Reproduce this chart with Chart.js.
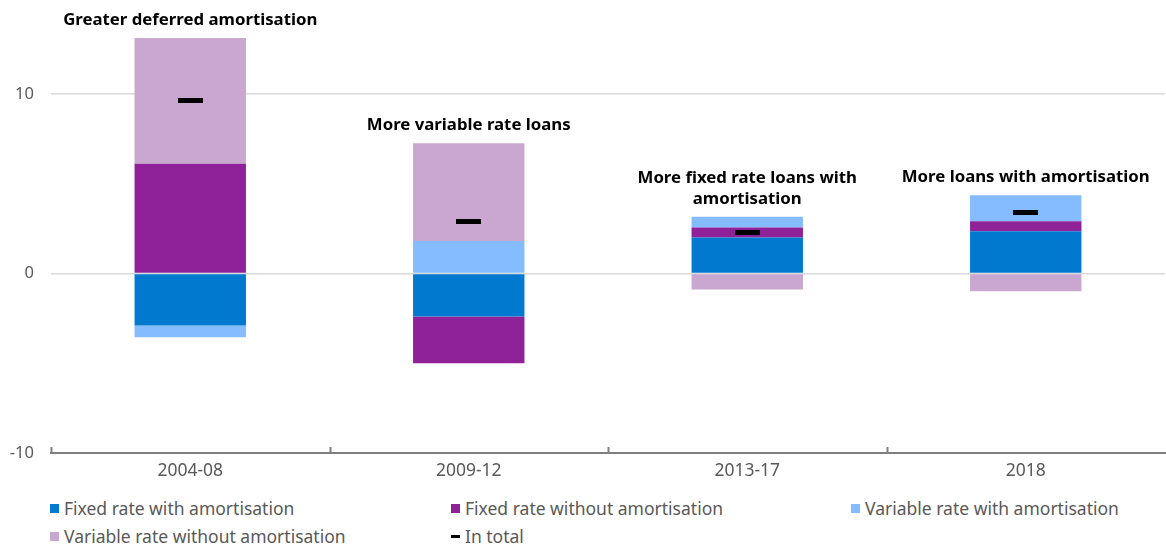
<!DOCTYPE html>
<html>
<head>
<meta charset="utf-8">
<script src="https://cdn.jsdelivr.net/npm/chart.js@4"></script>
<style>
  html, body { margin: 0; background: #fff; font-family: "Noto Sans", sans-serif; overflow: hidden; }
  #wrap { position: relative; width: 1166px; height: 490px; }
  #legend { position: absolute; left: 50px; top: 498px; display: grid; grid-template-columns: 401px 400px 300px; row-gap: 8px; }
  .item { display: flex; align-items: center; font-size: 17.5px; color: #595959; height: 20px; white-space: nowrap; }
  .box { width: 9px; height: 9px; margin-right: 5px; }
  .dash { width: 9px; height: 3px; margin-right: 5px; background: #000; }
</style>
</head>
<body>
<div id="wrap"><canvas id="chart"></canvas></div>
<div id="legend"></div>
<script>
const categories = ['2004-08', '2009-12', '2013-17', '2018'];
const fixedWithAmort = [-2.9, -2.4, 2.0, 2.35];
const fixedWithoutAmort = [6.1, -2.6, 0.55, 0.55];
const variableWithAmort = [-0.65, 1.8, 0.6, 1.45];
const variableWithoutAmort = [7.0, 5.45, -0.9, -1.0];
const inTotal = [9.65, 2.9, 2.3, 3.4];
const notes = [
    ['Greater deferred amortisation'],
    ['More variable rate loans'],
    ['More fixed rate loans with', 'amortisation'],
    ['More loans with amortisation']
];

const textGrey = '#595959';

// black dash used as the "In total" marker
const dash = document.createElement('canvas');
dash.width = 25; dash.height = 5;
const dctx = dash.getContext('2d');
dctx.fillStyle = '#000';
dctx.fillRect(0, 0, 25, 5);

// notes above each bar + small upward ticks on the x axis
const extras = {
    id: 'extras',
    afterDatasetsDraw(chart) {
        const ctx = chart.ctx;
        const x = chart.scales.x, y = chart.scales.y;
        const barSets = chart.data.datasets.filter(d => d.type !== 'line');
        ctx.save();
        ctx.fillStyle = '#000';
        ctx.font = 'bold 16.8px "Noto Sans"';
        ctx.textAlign = 'center';
        ctx.textBaseline = 'middle';
        categories.forEach((c, i) => {
            let top = 0;
            barSets.forEach(d => { if (d.data[i] > 0) top += d.data[i]; });
            const px = x.getPixelForValue(i);
            const py = y.getPixelForValue(top);
            const lines = notes[i];
            lines.forEach((t, j) => {
                ctx.fillText(t, px, py - 18 - (lines.length - 1 - j) * 21);
            });
        });
        const area = chart.chartArea;
        ctx.strokeStyle = '#7f7f7f';
        ctx.lineWidth = 2;
        const step = (area.right - area.left) / categories.length;
        for (let i = 0; i < categories.length; i++) {
            const tx = Math.round(area.left + i * step) + 0.5;
            ctx.beginPath();
            ctx.moveTo(tx, area.bottom);
            ctx.lineTo(tx, area.bottom - 6);
            ctx.stroke();
        }
        ctx.restore();
    }
};

const chart = new Chart(document.getElementById('chart'), {
    type: 'bar',
    data: {
        labels: categories,
        datasets: [
            { label: 'Fixed rate with amortisation', data: fixedWithAmort, backgroundColor: '#0079cf', order: 1 },
            { label: 'Fixed rate without amortisation', data: fixedWithoutAmort, backgroundColor: '#8f2299', order: 1 },
            { label: 'Variable rate with amortisation', data: variableWithAmort, backgroundColor: '#84bcff', order: 1 },
            { label: 'Variable rate without amortisation', data: variableWithoutAmort, backgroundColor: '#c9a7d0', order: 1 },
            {
                type: 'line', label: 'In total', data: inTotal, stack: 'total', order: 0,
                showLine: false, pointStyle: dash, pointRadius: 1, pointHoverRadius: 1,
                pointBorderWidth: 0, borderWidth: 0, borderColor: '#000', backgroundColor: '#000'
            }
        ]
    },
    options: {
        responsive: true,
        maintainAspectRatio: false,
        animation: false,
        layout: { padding: { top: 4, left: 0, right: 0, bottom: 0 } },
        datasets: { bar: { categoryPercentage: 1, barPercentage: 0.4 } },
        plugins: { legend: { display: false }, tooltip: { enabled: false } },
        scales: {
            x: {
                stacked: true,
                grid: { display: false, drawTicks: false },
                border: { display: true, color: '#7f7f7f', width: 2 },
                ticks: { color: textGrey, font: { family: 'Noto Sans', size: 17.5 }, padding: 8 }
            },
            y: {
                stacked: true,
                min: -10, max: 15,
                border: { display: false },
                grid: {
                    drawTicks: false,
                    color: c => (c.tick && (c.tick.value === 0 || c.tick.value === 10)) ? '#d9d9d9' : 'rgba(0,0,0,0)',
                    lineWidth: 1.5
                },
                ticks: {
                    stepSize: 10, padding: 17, color: textGrey,
                    font: { family: 'Noto Sans', size: 16.5 },
                    callback: v => (v % 10 === 0 ? v : '')
                },
                afterFit: s => { s.width = 51; s.paddingTop = 0; s.paddingBottom = 0; }
            }
        }
    },
    plugins: [extras]
});

// html legend in three columns
const legend = document.getElementById('legend');
chart.data.datasets.forEach(d => {
    const item = document.createElement('div');
    item.className = 'item';
    const mark = document.createElement('span');
    if (d.type === 'line') {
        mark.className = 'dash';
    } else {
        mark.className = 'box';
        mark.style.background = d.backgroundColor;
    }
    item.appendChild(mark);
    item.appendChild(document.createTextNode(d.label));
    legend.appendChild(item);
});
</script>
</body>
</html>
